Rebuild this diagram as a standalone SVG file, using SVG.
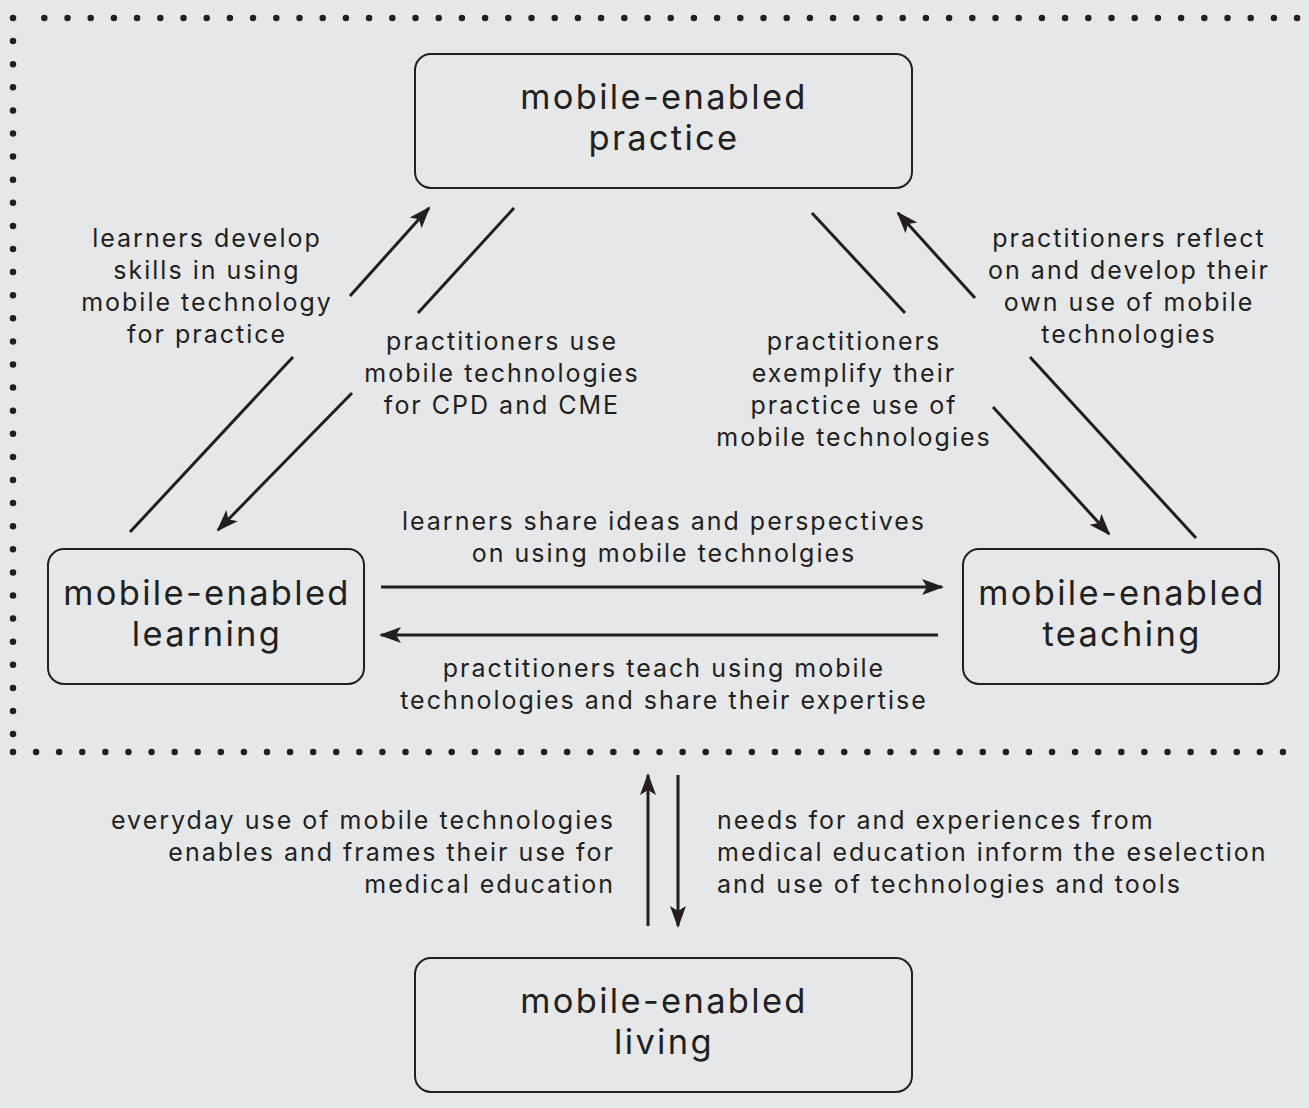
<svg xmlns="http://www.w3.org/2000/svg" width="1309" height="1108" viewBox="0 0 1309 1108">
<style>
.box{fill:none;stroke:#231f20;stroke-width:2}
.nt{font-family:Inter,"Open Sans",sans-serif;font-size:34.5px;letter-spacing:2.3px;fill:#231f20;text-anchor:middle}
.lt{font-family:Inter,"Open Sans",sans-serif;font-size:25px;letter-spacing:2px;fill:#231f20;text-anchor:middle}
.ln{stroke:#231f20;stroke-width:3;fill:none}
.dots{stroke:#231f20;stroke-width:6.5;stroke-linecap:round;fill:none}
</style>
<defs>
<marker id="ah" viewBox="0 0 22 18" refX="20" refY="9" markerWidth="22" markerHeight="18" markerUnits="userSpaceOnUse" orient="auto">
<path d="M0,1 L22,9 L0,17 L5,9 Z" fill="#231f20"/>
</marker>
</defs>
<rect width="1309" height="1108" fill="#e6e7e9"/>
<g id="border">
<line class="dots" x1="13" y1="18" x2="13" y2="19" stroke-dasharray="0 100"/>
<line class="dots" x1="44.3" y1="18" x2="1300" y2="18" stroke-dasharray="0 23.2"/>
<line class="dots" x1="13" y1="41.1" x2="13" y2="736" stroke-dasharray="0 23.1"/>
<line class="dots" x1="13" y1="752" x2="1285" y2="752" stroke-dasharray="0 23.09"/>
</g>
<g id="connectors">
<line class="ln" x1="130" y1="532" x2="293" y2="357"/>
<line class="ln" x1="350" y1="296" x2="429" y2="208" marker-end="url(#ah)"/>
<line class="ln" x1="514" y1="208" x2="418" y2="313"/>
<line class="ln" x1="352" y1="393" x2="218" y2="530" marker-end="url(#ah)"/>
<line class="ln" x1="812" y1="213" x2="905" y2="313"/>
<line class="ln" x1="993" y1="407" x2="1109" y2="534" marker-end="url(#ah)"/>
<line class="ln" x1="1196" y1="538" x2="1030" y2="357"/>
<line class="ln" x1="975" y1="298" x2="898" y2="213" marker-end="url(#ah)"/>
<line class="ln" x1="381" y1="587" x2="942" y2="587" marker-end="url(#ah)"/>
<line class="ln" x1="938" y1="635" x2="381" y2="635" marker-end="url(#ah)"/>
<line class="ln" x1="648" y1="926" x2="648" y2="775" marker-end="url(#ah)"/>
<line class="ln" x1="678" y1="775" x2="678" y2="926" marker-end="url(#ah)"/>
</g>
<g id="labels">
<text class="lt"><tspan x="207" y="247">learners develop</tspan><tspan x="207" y="279">skills in using</tspan><tspan x="207" y="311">mobile technology</tspan><tspan x="207" y="343">for practice</tspan></text>
<text class="lt"><tspan x="502" y="350">practitioners use</tspan><tspan x="502" y="382">mobile technologies</tspan><tspan x="502" y="414">for CPD and CME</tspan></text>
<text class="lt"><tspan x="854" y="350">practitioners</tspan><tspan x="854" y="382">exemplify their</tspan><tspan x="854" y="414">practice use of</tspan><tspan x="854" y="446">mobile technologies</tspan></text>
<text class="lt"><tspan x="1129" y="247">practitioners reflect</tspan><tspan x="1129" y="279">on and develop their</tspan><tspan x="1129" y="311">own use of mobile</tspan><tspan x="1129" y="343">technologies</tspan></text>
<text class="lt"><tspan x="664" y="530">learners share ideas and perspectives</tspan><tspan x="664" y="562">on using mobile technolgies</tspan></text>
<text class="lt"><tspan x="664" y="677">practitioners teach using mobile</tspan><tspan x="664" y="709">technologies and share their expertise</tspan></text>
<text class="lt" style="text-anchor:end"><tspan x="615" y="829">everyday use of mobile technologies</tspan><tspan x="615" y="861">enables and frames their use for</tspan><tspan x="615" y="893">medical education</tspan></text>
<text class="lt" style="text-anchor:start"><tspan x="717" y="829">needs for and experiences from</tspan><tspan x="717" y="861">medical education inform the eselection</tspan><tspan x="717" y="893">and use of technologies and tools</tspan></text>
</g>
<g id="practice">
<rect class="box" x="415" y="54" width="497" height="134" rx="16"/>
<text class="nt"><tspan x="664" y="109">mobile-enabled</tspan><tspan x="664" y="150">practice</tspan></text>
</g>
<g id="learning">
<rect class="box" x="48" y="549" width="316" height="135" rx="16"/>
<text class="nt"><tspan x="207" y="605">mobile-enabled</tspan><tspan x="207" y="646">learning</tspan></text>
</g>
<g id="teaching">
<rect class="box" x="963" y="549" width="316" height="135" rx="16"/>
<text class="nt"><tspan x="1122" y="605">mobile-enabled</tspan><tspan x="1122" y="646">teaching</tspan></text>
</g>
<g id="living">
<rect class="box" x="415" y="958" width="497" height="134" rx="16"/>
<text class="nt"><tspan x="664" y="1013">mobile-enabled</tspan><tspan x="664" y="1054">living</tspan></text>
</g>
</svg>
